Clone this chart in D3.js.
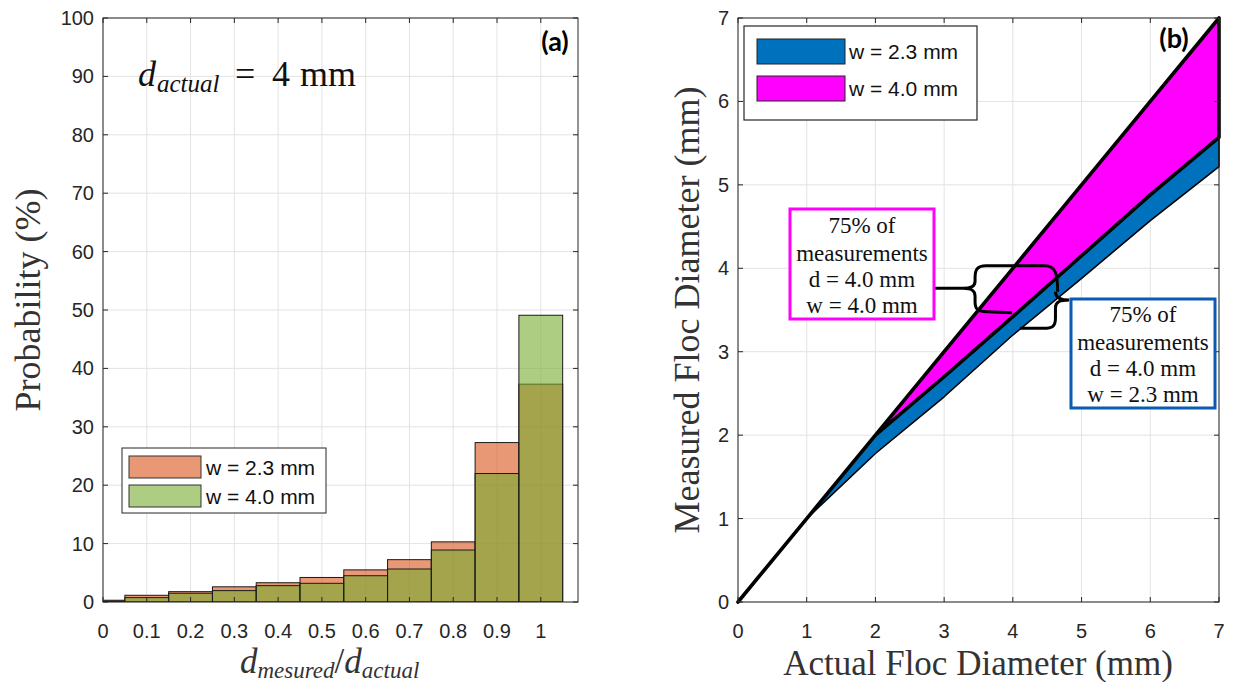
<!DOCTYPE html>
<html>
<head>
<meta charset="utf-8">
<script src="https://cdn.jsdelivr.net/npm/d3@7/dist/d3.min.js"></script>
<style>
  html, body { margin: 0; padding: 0; background: #ffffff; }
  svg { display: block; }
</style>
</head>
<body>
<svg id="chart" width="1233" height="682"></svg>
<script>
// ---------------- DATA ----------------
// Panel (a): histogram of d_measured / d_actual (bin centres, width 0.1)
const binCenters = [0, 0.1, 0.2, 0.3, 0.4, 0.5, 0.6, 0.7, 0.8, 0.9, 1.0];
const prob23 = [0.3, 1.15, 1.77, 2.6, 3.3, 4.2, 5.5, 7.25, 10.3, 27.3, 37.3];   // w = 2.3 mm
const prob40 = [0.15, 0.75, 1.5, 1.95, 2.8, 3.2, 4.5, 5.65, 8.9, 22.0, 49.1];  // w = 4.0 mm
const xTicksA = [0, 0.1, 0.2, 0.3, 0.4, 0.5, 0.6, 0.7, 0.8, 0.9, 1];
const xTickLabelsA = ["0", "0.1", "0.2", "0.3", "0.4", "0.5", "0.6", "0.7", "0.8", "0.9", "1"];
const yTicksA = [0, 10, 20, 30, 40, 50, 60, 70, 80, 90, 100];

// Panel (b): 75% measurement envelopes
const actualDiam = [0, 1, 2, 3, 4, 5, 6, 7];
const upper40 = [0, 1, 2, 3, 4, 5, 6, 7];                 // upper bound (w = 4.0 mm)
const lower40 = [0, 1, 2.0, 2.7, 3.42, 4.15, 4.88, 5.57]; // lower bound w = 4.0 / upper w = 2.3
const lower23 = [0, 1, 1.78, 2.46, 3.2, 3.88, 4.57, 5.22]; // lower bound (w = 2.3 mm)
const ticksB = [0, 1, 2, 3, 4, 5, 6, 7];

const seriesA = ["w = 2.3 mm", "w = 4.0 mm"];
const seriesB = ["w = 2.3 mm", "w = 4.0 mm"];
const boxLinesMag = ["75% of", "measurements", "d = 4.0 mm", "w = 4.0 mm"];
const boxLinesBlue = ["75% of", "measurements", "d = 4.0 mm", "w = 2.3 mm"];

// ---------------- SETUP ----------------
const svg = d3.select("#chart");
const SANS = "'Liberation Sans', Arial, Helvetica, sans-serif";
const SERIF = "'Liberation Serif', 'Times New Roman', serif";
const AX = "#262626", GRID = "#e3e3e3";
svg.append("rect").attr("width", 1233).attr("height", 682).attr("fill", "#fff");

const xA = d3.scaleLinear().domain([0, 1.085]).range([103, 578]);
const yA = d3.scaleLinear().domain([0, 100]).range([602, 18]);
const xB = d3.scaleLinear().domain([0, 7]).range([738, 1219]);
const yB = d3.scaleLinear().domain([0, 7]).range([602, 18]);

function frame(g, x, y, xt, yt) {
  const [x0, x1] = x.range(), [y0, y1] = y.range();
  g.append("g").selectAll("line").data(xt).join("line")
    .attr("x1", d => x(d)).attr("x2", d => x(d)).attr("y1", y0).attr("y2", y1)
    .attr("stroke", GRID).attr("stroke-width", 1);
  g.append("g").selectAll("line").data(yt).join("line")
    .attr("y1", d => y(d)).attr("y2", d => y(d)).attr("x1", x0).attr("x2", x1)
    .attr("stroke", GRID).attr("stroke-width", 1);
}
function axesBox(g, x, y, xt, yt, xLabels, yLabels) {
  const [x0, x1] = x.range(), [y0, y1] = y.range();
  const tl = 5;
  const ax = g.append("g");
  ax.selectAll("line.xb").data(xt).join("line").attr("x1", d => x(d)).attr("x2", d => x(d))
    .attr("y1", y0).attr("y2", y0 - tl).attr("stroke", AX);
  ax.selectAll("line.xt").data(xt).join("line").attr("x1", d => x(d)).attr("x2", d => x(d))
    .attr("y1", y1).attr("y2", y1 + tl).attr("stroke", AX);
  ax.selectAll("line.yl").data(yt).join("line").attr("y1", d => y(d)).attr("y2", d => y(d))
    .attr("x1", x0).attr("x2", x0 + tl).attr("stroke", AX);
  ax.selectAll("line.yr").data(yt).join("line").attr("y1", d => y(d)).attr("y2", d => y(d))
    .attr("x1", x1).attr("x2", x1 - tl).attr("stroke", AX);
  ax.append("rect").attr("x", x0).attr("y", y1).attr("width", x1 - x0).attr("height", y0 - y1)
    .attr("fill", "none").attr("stroke", AX).attr("stroke-width", 1);
  ax.selectAll("text.xl").data(xt).join("text")
    .attr("x", d => x(d)).attr("y", y0 + 36).attr("text-anchor", "middle")
    .attr("font-family", SANS).attr("font-size", 20).attr("fill", AX)
    .text((d, i) => xLabels[i]);
  ax.selectAll("text.yl").data(yt).join("text")
    .attr("x", x0 - 9).attr("y", d => y(d) + 7).attr("text-anchor", "end")
    .attr("font-family", SANS).attr("font-size", 20).attr("fill", AX)
    .text((d, i) => yLabels[i]);
}

// ---------------- PANEL (a) ----------------
const gA = svg.append("g");
frame(gA, xA, yA, xTicksA, yTicksA);
svg.append("clipPath").attr("id", "clipA").append("rect")
  .attr("x", 103).attr("y", 18).attr("width", 475).attr("height", 584);
const barsA = gA.append("g").attr("clip-path", "url(#clipA)");
const bw = 0.1;
[[prob23, "#D95319"], [prob40, "#77AC30"]].forEach(([vals, col]) => {
  barsA.append("g").selectAll("rect").data(binCenters).join("rect")
    .attr("x", d => xA(d - bw / 2))
    .attr("width", d => xA(d + bw / 2) - xA(d - bw / 2))
    .attr("y", (d, i) => yA(vals[i]))
    .attr("height", (d, i) => yA(0) - yA(vals[i]))
    .attr("fill", col).attr("fill-opacity", 0.6)
    .attr("stroke", "#1a1a1a").attr("stroke-width", 1);
});
axesBox(gA, xA, yA, xTicksA, yTicksA, xTickLabelsA, yTicksA.map(String));

// legend (a)
const legA = gA.append("g");
legA.append("rect").attr("x", 122).attr("y", 448).attr("width", 204).attr("height", 65)
  .attr("fill", "#fff").attr("stroke", AX).attr("stroke-width", 1);
[["#E89875", 456], ["#ADCD83", 485]].forEach(([c, yy], i) => {
  legA.append("rect").attr("x", 129).attr("y", yy).attr("width", 72).attr("height", 22)
    .attr("fill", c).attr("stroke", "#333").attr("stroke-width", 1);
  legA.append("text").attr("x", 206).attr("y", yy + 19).attr("font-family", SANS)
    .attr("font-size", 21).attr("fill", "#111").text(seriesA[i]);
});

// annotation d_actual = 4 mm
const tA = gA.append("g").attr("font-family", SERIF).attr("fill", "#111");
tA.append("text").attr("x", 138).attr("y", 86).attr("font-size", 36).attr("font-style", "italic").text("d");
tA.append("text").attr("x", 157).attr("y", 92).attr("font-size", 25).attr("font-style", "italic").text("actual");
tA.append("text").attr("x", 235).attr("y", 86).attr("font-size", 36).text("=");
tA.append("text").attr("x", 272).attr("y", 86).attr("font-size", 36).text("4");
tA.append("text").attr("x", 300).attr("y", 86).attr("font-size", 36).text("mm");

gA.append("text").attr("x", 555).attr("y", 51).attr("text-anchor", "middle")
  .attr("font-family", "Lato, 'Open Sans', sans-serif").attr("font-weight", "bold")
  .attr("font-size", 27).attr("fill", "#000").text("(a)");

// axis labels (a)
gA.append("text").attr("transform", "translate(40,300) rotate(-90)").attr("text-anchor", "middle")
  .attr("font-family", SERIF).attr("font-size", 36).attr("fill", "#333").text("Probability (%)");
const xlA = gA.append("text").attr("x", 240).attr("y", 673).attr("font-family", SERIF)
  .attr("font-size", 35).attr("fill", "#333");
xlA.append("tspan").attr("font-style", "italic").text("d");
xlA.append("tspan").attr("font-style", "italic").attr("font-size", 23).attr("dy", 5).text("mesured");
xlA.append("tspan").attr("dy", -5).text("/");
xlA.append("tspan").attr("font-style", "italic").text("d");
xlA.append("tspan").attr("font-style", "italic").attr("font-size", 23).attr("dy", 5).text("actual");

// ---------------- PANEL (b) ----------------
const gB = svg.append("g");
frame(gB, xB, yB, ticksB, ticksB);
svg.append("clipPath").attr("id", "clipB").append("rect")
  .attr("x", 736).attr("y", 16).attr("width", 485).attr("height", 588);
const plotB = gB.append("g").attr("clip-path", "url(#clipB)");

const band = (hi, lo) => d3.area().x((d, i) => xB(actualDiam[i])).y0((d, i) => yB(lo[i])).y1((d, i) => yB(hi[i]));
plotB.append("path").datum(actualDiam).attr("d", band(lower40, lower23))
  .attr("fill", "#0072BD").attr("stroke", "#000").attr("stroke-width", 1.6).attr("stroke-linejoin", "round");
plotB.append("path").datum(actualDiam).attr("d", band(upper40, lower40))
  .attr("fill", "#FF00FF").attr("stroke", "#000").attr("stroke-width", 3.6).attr("stroke-linejoin", "round");

axesBox(gB, xB, yB, ticksB, ticksB, ticksB.map(String), ticksB.map(String));

// legend (b)
const legB = gB.append("g");
legB.append("rect").attr("x", 744).attr("y", 26).attr("width", 233).attr("height", 94)
  .attr("fill", "#fff").attr("stroke", AX).attr("stroke-width", 1.2);
[["#0072BD", 39], ["#FF00FF", 76]].forEach(([c, yy], i) => {
  legB.append("rect").attr("x", 757).attr("y", yy).attr("width", 88).attr("height", 25)
    .attr("fill", c).attr("stroke", "#222").attr("stroke-width", 1);
  legB.append("text").attr("x", 849).attr("y", yy + 20).attr("font-family", SANS)
    .attr("font-size", 21).attr("fill", "#111").text(seriesB[i]);
});

gB.append("text").attr("x", 1174).attr("y", 48).attr("text-anchor", "middle")
  .attr("font-family", "Lato, 'Open Sans', sans-serif").attr("font-weight", "bold")
  .attr("font-size", 27).attr("fill", "#000").text("(b)");

// braces (positions via data units)
const px = v => xB(v), py = v => yB(v);
const bx = px(3.45), tipx = px(3.28), topy = py(4.03), boty = py(3.48), midy = py(3.76);
const armR = px(4.55), curlY = py(3.72), armB = px(3.99), boxL = px(2.855);
const braceM = d3.path();
braceM.moveTo(armR + 7, curlY);
braceM.bezierCurveTo(armR + 7, topy + 8, armR + 5, topy, armR - 6, topy);
braceM.lineTo(bx + 11, topy);
braceM.bezierCurveTo(bx + 2, topy, bx, topy + 4, bx, topy + 12);
braceM.lineTo(bx, midy - 7);
braceM.bezierCurveTo(bx, midy - 2, bx - 4, midy, tipx, midy);
braceM.lineTo(boxL, midy);
braceM.moveTo(tipx, midy);
braceM.bezierCurveTo(bx - 4, midy, bx, midy + 2, bx, midy + 8);
braceM.lineTo(bx, boty - 10);
braceM.bezierCurveTo(bx, boty - 2, bx + 3, boty, bx + 12, boty);
braceM.lineTo(armB, boty + 1);
gB.append("path").attr("d", braceM.toString()).attr("fill", "none")
  .attr("stroke", "#000").attr("stroke-width", 3);

const sx = px(4.62), tip2x = px(4.82), tip2y = py(3.62), bot2y = py(3.28), arm2 = px(4.1);
const braceBl = d3.path();
braceBl.moveTo(sx, curlY);
braceBl.bezierCurveTo(sx, tip2y - 3, sx + 4, tip2y, tip2x, tip2y);
braceBl.moveTo(tip2x, tip2y);
braceBl.bezierCurveTo(sx + 4, tip2y, sx, tip2y + 2, sx, tip2y + 8);
braceBl.lineTo(sx, bot2y - 10);
braceBl.bezierCurveTo(sx, bot2y - 2, sx - 3, bot2y, sx - 12, bot2y);
braceBl.lineTo(arm2, bot2y);
gB.append("path").attr("d", braceBl.toString()).attr("fill", "none")
  .attr("stroke", "#000").attr("stroke-width", 3);

// annotation boxes
function annBox(x0, y0, w, h, col, lines, base) {
  gB.append("rect").attr("x", x0).attr("y", y0).attr("width", w).attr("height", h)
    .attr("fill", "#fff").attr("stroke", col).attr("stroke-width", 3);
  gB.append("g").selectAll("text").data(lines).join("text")
    .attr("x", x0 + w / 2).attr("y", (d, i) => base[i]).attr("text-anchor", "middle")
    .attr("font-family", SERIF).attr("font-size", 23).attr("fill", "#111").text(d => d);
}
annBox(790, 209, 144, 110, "#FF00FF", boxLinesMag, [233, 261, 287, 313]);
annBox(1071, 299, 144, 109, "#0B5BB0", boxLinesBlue, [322, 350, 376, 402]);

// axis labels (b)
gB.append("text").attr("transform", "translate(699,310) rotate(-90)").attr("text-anchor", "middle")
  .attr("font-family", SERIF).attr("font-size", 36).attr("fill", "#333").text("Measured Floc Diameter (mm)");
gB.append("text").attr("x", 978).attr("y", 675).attr("text-anchor", "middle")
  .attr("font-family", SERIF).attr("font-size", 35).attr("fill", "#333").text("Actual Floc Diameter (mm)");
</script>
</body>
</html>
